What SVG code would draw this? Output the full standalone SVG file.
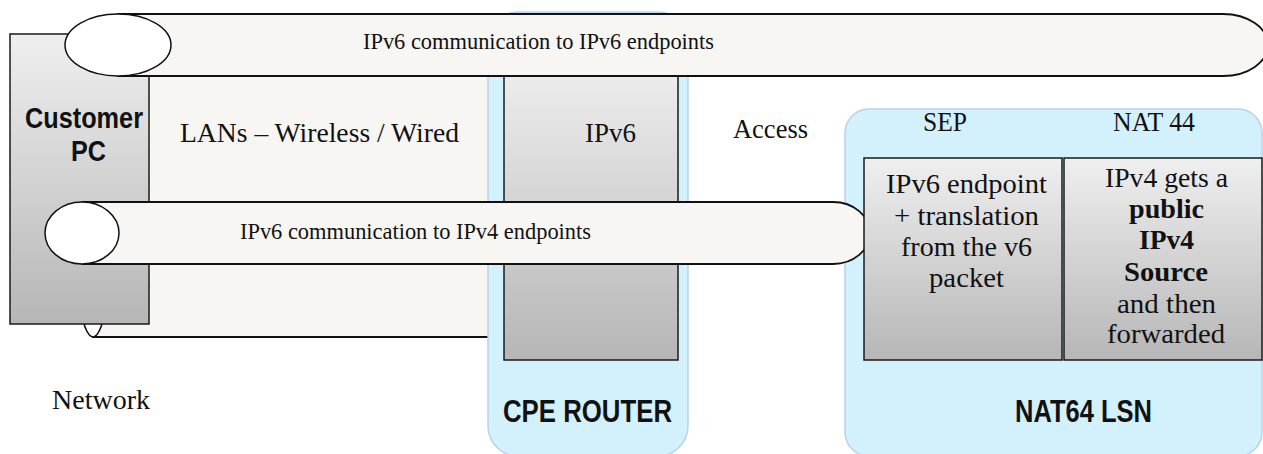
<svg xmlns="http://www.w3.org/2000/svg" width="1263" height="454" viewBox="0 0 1263 454">
<defs>
<linearGradient id="g" x1="0" y1="0" x2="0" y2="1">
<stop offset="0" stop-color="#efefef"/>
<stop offset="1" stop-color="#b6b6b6"/>
</linearGradient>
<style>
.box{fill:url(#g);stroke:#1a1a1a;stroke-width:1.5}
.zone{fill:#d3f0fd;stroke:#b9d2ea;stroke-width:1.5}
.tube{fill:#f7f6f3;stroke:#111;stroke-width:1.8}
.cap{fill:#fff;stroke:#111;stroke-width:1.5}
.s{font-family:"Liberation Serif","Times New Roman",serif;fill:#111}
.b{font-family:"Liberation Sans",Arial,sans-serif;font-weight:bold;fill:#111}
</style>
</defs>
<rect width="1263" height="454" fill="#fff"/>
<g id="lan-network">
<path class="tube" d="M93,40 H495 V337 H93 Z"/>
<ellipse class="cap" cx="93" cy="188.5" rx="22" ry="148.5"/>
</g>
<g id="customer-pc">
<rect class="box" x="10" y="34" width="139" height="290"/>
</g>
<g id="cpe-router">
<rect class="zone" x="488" y="12" width="200" height="444" rx="30"/>
<rect class="box" x="504" y="60" width="174" height="300"/>
</g>
<g id="nat64-lsn">
<rect class="zone" x="845" y="109" width="417" height="347" rx="24"/>
</g>
<g id="connectors">
<path class="tube" d="M118,14 H1223 A45,31 0 0 1 1223,76 H118 Z"/>
<ellipse class="cap" cx="118" cy="45" rx="53" ry="31"/>
<path class="tube" d="M82,202 H833 A37,31 0 0 1 833,264 H82 Z"/>
<ellipse class="cap" cx="82" cy="233" rx="37" ry="31"/>
</g>
<g id="sep">
<rect class="box" x="864" y="158" width="198" height="202"/>
</g>
<g id="nat44">
<rect class="box" x="1064" y="158" width="198" height="202"/>
</g>
<g id="labels">
<text class="s" x="363" y="49" font-size="23" textLength="351" lengthAdjust="spacingAndGlyphs">IPv6 communication to IPv6 endpoints</text>
<text class="s" x="240" y="239" font-size="23" textLength="351" lengthAdjust="spacingAndGlyphs">IPv6 communication to IPv4 endpoints</text>
<text class="b" x="25" y="128" font-size="29" textLength="118" lengthAdjust="spacingAndGlyphs">Customer</text>
<text class="b" x="71" y="161" font-size="29" textLength="35" lengthAdjust="spacingAndGlyphs">PC</text>
<text class="s" x="180" y="142" font-size="26.5" textLength="279" lengthAdjust="spacingAndGlyphs">LANs – Wireless / Wired</text>
<text class="s" x="585" y="142" font-size="26.5" textLength="51" lengthAdjust="spacingAndGlyphs">IPv6</text>
<text class="s" x="733" y="138" font-size="26.5" textLength="75" lengthAdjust="spacingAndGlyphs">Access</text>
<text class="s" x="52" y="409" font-size="26.5" textLength="98" lengthAdjust="spacingAndGlyphs">Network</text>
<text class="b" x="503" y="422" font-size="31" textLength="169" lengthAdjust="spacingAndGlyphs">CPE ROUTER</text>
<text class="b" x="1015" y="422" font-size="31" textLength="137" lengthAdjust="spacingAndGlyphs">NAT64 LSN</text>
<text class="s" x="923" y="131" font-size="26.5" textLength="44" lengthAdjust="spacingAndGlyphs">SEP</text>
<text class="s" x="1113" y="131" font-size="26.5" textLength="82" lengthAdjust="spacingAndGlyphs">NAT 44</text>
<text class="s" x="886" y="193" font-size="26.5" textLength="161" lengthAdjust="spacingAndGlyphs">IPv6 endpoint</text>
<text class="s" x="894" y="225" font-size="26.5" textLength="145" lengthAdjust="spacingAndGlyphs">+ translation</text>
<text class="s" x="901" y="256" font-size="26.5" textLength="131" lengthAdjust="spacingAndGlyphs">from the v6</text>
<text class="s" x="929" y="287" font-size="26.5" textLength="75" lengthAdjust="spacingAndGlyphs">packet</text>
<text class="s" x="1105" y="187" font-size="26.5" textLength="123" lengthAdjust="spacingAndGlyphs">IPv4 gets a</text>
<text class="s" x="1129" y="218" font-size="26.5" font-weight="bold" textLength="75" lengthAdjust="spacingAndGlyphs">public</text>
<text class="s" x="1139" y="249" font-size="26.5" font-weight="bold" textLength="55" lengthAdjust="spacingAndGlyphs">IPv4</text>
<text class="s" x="1124" y="281" font-size="26.5" font-weight="bold" textLength="84" lengthAdjust="spacingAndGlyphs">Source</text>
<text class="s" x="1117" y="313" font-size="26.5" textLength="99" lengthAdjust="spacingAndGlyphs">and then</text>
<text class="s" x="1107" y="343" font-size="26.5" textLength="118" lengthAdjust="spacingAndGlyphs">forwarded</text>
</g>
</svg>
